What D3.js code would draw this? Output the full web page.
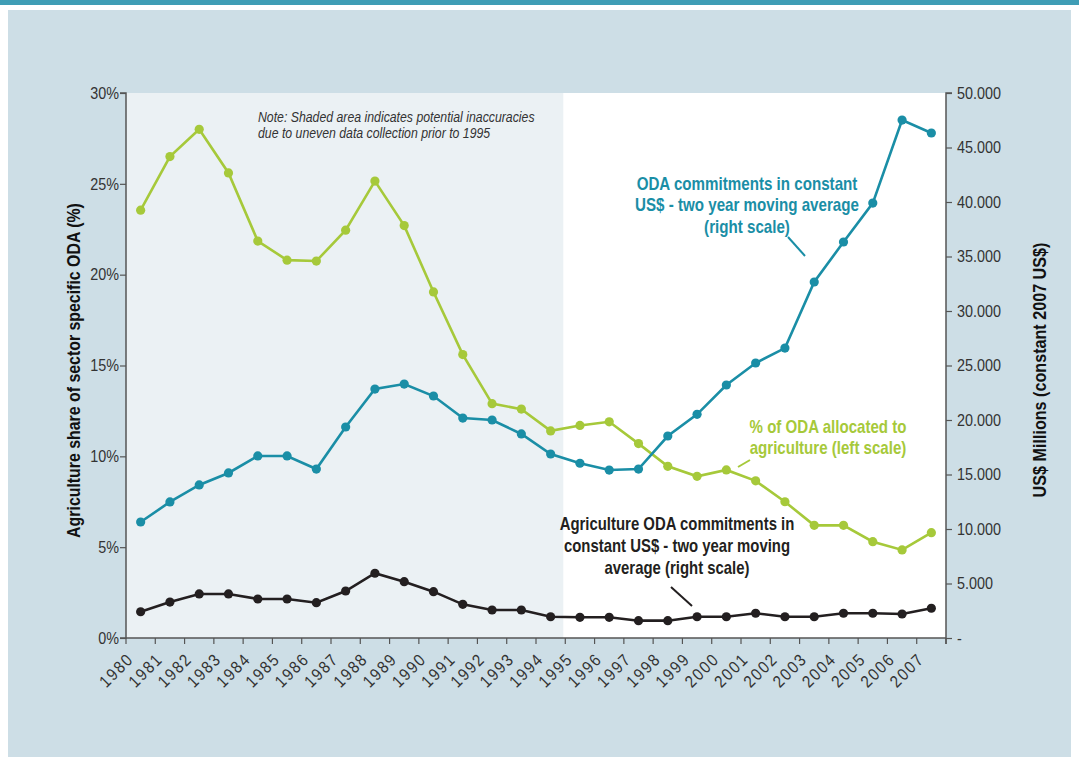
<!DOCTYPE html>
<html><head><meta charset="utf-8">
<script src="https://cdn.jsdelivr.net/npm/d3@7"></script>
<style>
html,body{margin:0;padding:0;background:#fff;}
svg text{font-family:"Liberation Sans",Arial,Helvetica,sans-serif;}
</style></head>
<body><svg id="c" width="1079" height="766"></svg>
<script>
const years = ["1980","1981","1982","1983","1984","1985","1986","1987","1988","1989","1990","1991","1992","1993","1994","1995","1996","1997","1998","1999","2000","2001","2002","2003","2004","2005","2006","2007"];
const shareAgri = [23.55,26.5,28.0,25.6,21.85,20.8,20.75,22.45,25.15,22.7,19.05,15.6,12.9,12.6,11.4,11.7,11.9,10.7,9.45,8.9,9.25,8.65,7.5,6.2,6.2,5.3,4.85,5.8];
const odaTotal = [10640,12480,14040,15140,16700,16700,15500,19360,22840,23300,22200,20180,20000,18720,16880,16030,15410,15500,18530,20520,23210,25230,26600,32660,36330,39900,47520,46330];
const odaAgri = [2410,3300,4040,4040,3580,3580,3240,4310,5940,5170,4250,3090,2570,2570,1950,1900,1900,1590,1590,1950,1950,2270,1950,1950,2270,2270,2200,2730];
const leftTicks = [0,5,10,15,20,25,30];
const rightTicks = [0,5000,10000,15000,20000,25000,30000,35000,40000,45000,50000];
const shadedUntil = "1995";

const svg = d3.select("#c");
const W=1079,H=766;
const m={l:126,r:946,t:93,b:638};
const TEAL="#1a8ea6", GREEN="#a6c93a", BLACK="#231f20", AX="#555";
const SX=0.87;

svg.append("rect").attr("x",0).attr("y",0).attr("width",W).attr("height",5).attr("fill","#3f9db5");
svg.append("rect").attr("x",8).attr("y",10).attr("width",1063).attr("height",747).attr("fill","#cddee6");

const x = d3.scaleBand().domain(years).range([m.l,m.r]).padding(0);
const yL = d3.scaleLinear().domain([0,30]).range([m.b,m.t]);
const yR = d3.scaleLinear().domain([0,50000]).range([m.b,m.t]);
const cx = d=>x(d)+x.bandwidth()/2;

svg.append("rect").attr("x",m.l).attr("y",m.t).attr("width",m.r-m.l).attr("height",m.b-m.t).attr("fill","#fff");
svg.append("rect").attr("x",m.l).attr("y",m.t).attr("width",x(shadedUntil)-2-m.l).attr("height",m.b-m.t).attr("fill","#ebf1f4");

// axes
const gL = svg.append("g").attr("transform",`translate(${m.l},0)`)
  .call(d3.axisLeft(yL).tickValues(leftTicks).tickSize(6).tickFormat(d=>d+"%"));
const loc = d3.formatLocale({decimal:",",thousands:".",grouping:[3],currency:["",""]});
const fR = loc.format(",");
const gR = svg.append("g").attr("transform",`translate(${m.r},0)`)
  .call(d3.axisRight(yR).tickValues(rightTicks).tickSize(6).tickFormat(d=>d===0?"-":fR(d)));
const gX = svg.append("g").attr("transform",`translate(0,${m.b})`)
  .call(d3.axisBottom(x).tickSize(0).tickFormat(""));
const bounds = years.map(y=>x(y)).concat([m.r]);
gX.selectAll(".bt").data(bounds).enter().append("line").attr("class","bt")
  .attr("x1",d=>d).attr("x2",d=>d).attr("y1",0).attr("y2",6).attr("stroke",AX).attr("stroke-width",1.2);
gX.selectAll(".xl").data(years).enter().append("text").attr("class","xl")
  .attr("transform",d=>`translate(${cx(d)-6},${22}) rotate(-45) scale(0.88,1)`)
  .attr("text-anchor","end").attr("fill","#333").attr("font-size",17).attr("letter-spacing","2px").text(d=>d);

[gL,gR,gX].forEach(g=>{
  g.select(".domain").attr("stroke",AX).attr("stroke-width",1.5);
  g.selectAll(".tick line").attr("stroke",AX).attr("stroke-width",1.2);
  g.selectAll(".tick text").attr("fill","#333").attr("font-size",16.5).attr("font-family",null);
});
gL.select(".domain").attr("d",`M-6,${m.t}H0V${m.b}H-6`);
gR.select(".domain").attr("d",`M6,${m.t}H0V${m.b+6}`);
gX.select(".domain").attr("d",`M${m.l},0H${m.r}`);
gL.selectAll(".tick text").attr("x",-7/SX).attr("transform",`scale(${SX},1)`);
gR.selectAll(".tick text").attr("x",11/SX).attr("transform",`scale(${SX},1)`);

// text helper: fits the reference line to a target width with horizontal squeeze
function label(lines, opt){
  const g = svg.append("g").attr("transform",`translate(${opt.x},${opt.y})${opt.rot?` rotate(${opt.rot})`:""}`);
  const t = g.append("text").attr("text-anchor",opt.anchor||"middle").attr("font-size",opt.size)
    .attr("font-weight",opt.weight||"normal").attr("font-style",opt.style||"normal").attr("fill",opt.color);
  const ts = lines.map((l,i)=>t.append("tspan").attr("x",0).attr("y",i*(opt.dy||0)).text(l));
  const w = ts[opt.ref||0].node().getComputedTextLength();
  t.attr("transform",`scale(${opt.w/w},1)`);
}
label(["Agriculture share of sector specific ODA (%)"],{x:80,y:(m.t+m.b)/2+5,rot:-90,size:17.5,weight:"bold",color:"#111",w:335});
label(["US$ Millions (constant 2007 US$)"],{x:1046,y:365+5,rot:-90,size:17.5,weight:"bold",color:"#111",w:255});

// series
function series(vals, ys, color){
  const g = svg.append("g");
  g.append("path").datum(vals).attr("fill","none").attr("stroke",color).attr("stroke-width",2.6)
    .attr("d",d3.line().x((d,i)=>cx(years[i])).y(d=>ys(d)));
  g.selectAll("circle").data(vals).enter().append("circle")
    .attr("cx",(d,i)=>cx(years[i])).attr("cy",d=>ys(d)).attr("r",4.6).attr("fill",color);
}
series(shareAgri,yL,GREEN);
series(odaTotal,yR,TEAL);
series(odaAgri,yR,BLACK);

label(["Note: Shaded area indicates potential inaccuracies","due to uneven data collection prior to 1995"],
  {x:258,y:122,dy:16,size:14,style:"italic",color:"#333",anchor:"start",w:277});
label(["ODA commitments in constant","US$ - two year moving average","(right scale)"],
  {x:747,y:190,dy:21.5,size:18,weight:"bold",color:TEAL,ref:1,w:224});
label(["% of ODA allocated to","agriculture (left scale)"],
  {x:828,y:433,dy:21.5,size:18,weight:"bold",color:GREEN,w:157});
label(["Agriculture ODA commitments in","constant US$ - two year moving","average (right scale)"],
  {x:677,y:530,dy:22,size:18,weight:"bold",color:BLACK,w:235});

svg.append("line").attr("x1",788).attr("y1",237).attr("x2",805).attr("y2",256).attr("stroke",TEAL).attr("stroke-width",2);
svg.append("line").attr("x1",738).attr("y1",467).attr("x2",750).attr("y2",460).attr("stroke",GREEN).attr("stroke-width",2);
svg.append("line").attr("x1",671).attr("y1",587).attr("x2",692).attr("y2",606).attr("stroke",BLACK).attr("stroke-width",2);
</script></body></html>
